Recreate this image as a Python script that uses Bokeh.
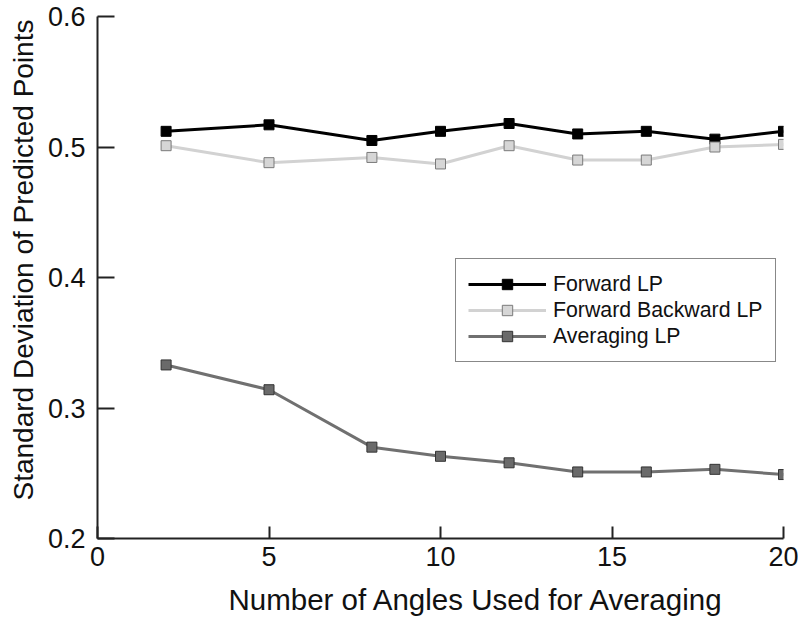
from bokeh.plotting import figure
from bokeh.models import Range1d, FixedTicker, Legend, LegendItem, PrintfTickFormatter, Title
from bokeh.embed import file_html
from bokeh.resources import INLINE

angles = [2, 5, 8, 10, 12, 14, 16, 18, 20]
forward_lp = [0.512, 0.517, 0.505, 0.512, 0.518, 0.510, 0.512, 0.506, 0.512]
forward_backward_lp = [0.501, 0.488, 0.492, 0.487, 0.501, 0.490, 0.490, 0.500, 0.502]
averaging_lp = [0.333, 0.314, 0.270, 0.263, 0.258, 0.251, 0.251, 0.253, 0.249]
x_ticks = [0, 5, 10, 15, 20]
y_ticks = [0.2, 0.3, 0.4, 0.5, 0.6]
x_title = "Number of Angles Used for Averaging"
y_title = "Standard Deviation of Predicted Points"

FONT = "Liberation Sans"
W, H = 798, 628

p = figure(width=W, height=H, output_backend="svg", toolbar_location=None,
           x_range=Range1d(0, 20), y_range=Range1d(0.2, 0.6),
           min_border_left=97, min_border_right=15, min_border_top=16, min_border_bottom=85)
p.outline_line_color = None
p.xgrid.visible = False
p.ygrid.visible = False
p.background_fill_color = "white"

series = [
    ("Forward LP", forward_lp, "#000000", "#000000", "#000000"),
    ("Forward Backward LP", forward_backward_lp, "#d2d2d2", "#d6d6d6", "#7a7a7a"),
    ("Averaging LP", averaging_lp, "#707070", "#6a6a6a", "#333333"),
]
items = []
for name, vals, lc, fc, ec in series:
    l = p.line(angles, vals, line_color=lc, line_width=3)
    s = p.scatter(angles, vals, marker="square", size=10, fill_color=fc, line_color=ec, line_width=1)
    items.append(LegendItem(label=name, renderers=[l, s]))

legend = Legend(items=items, location=(358, 176), glyph_width=78, glyph_height=26,
                label_height=26, spacing=0, label_standoff=7, padding=12, margin=0,
                label_text_font=FONT, label_text_font_size="21.3px", label_text_color="#111111",
                border_line_color="#111111", border_line_width=1.5, background_fill_alpha=1)
p.add_layout(legend, "center")

for ax in (p.xaxis[0], p.yaxis[0]):
    ax.axis_line_color = "#222222"
    ax.axis_line_width = 2
    ax.major_tick_line_color = "#222222"
    ax.major_tick_line_width = 2
    ax.major_tick_out = 0
    ax.minor_tick_line_color = None
    ax.major_label_text_font = FONT
    ax.major_label_text_font_size = "27px"
    ax.major_label_text_color = "#111111"

p.xaxis.ticker = FixedTicker(ticks=x_ticks)
p.yaxis.ticker = FixedTicker(ticks=y_ticks)
p.yaxis.formatter = PrintfTickFormatter(format="%.1f")
p.xaxis.major_tick_in = 12
p.yaxis.major_tick_in = 17
p.xaxis.major_label_standoff = 8
p.yaxis.major_label_standoff = 12

xt = Title(text=x_title, align="left", offset=131, standoff=25, text_font=FONT,
           text_font_size="29.5px", text_font_style="normal", text_color="#111111")
yt = Title(text=y_title, align="left", offset=38, standoff=11, text_font=FONT,
           text_font_size="28px", text_font_style="normal", text_color="#111111")
p.add_layout(xt, "below")
p.add_layout(yt, "left")

open("out.html", "w").write(file_html(p, INLINE))
